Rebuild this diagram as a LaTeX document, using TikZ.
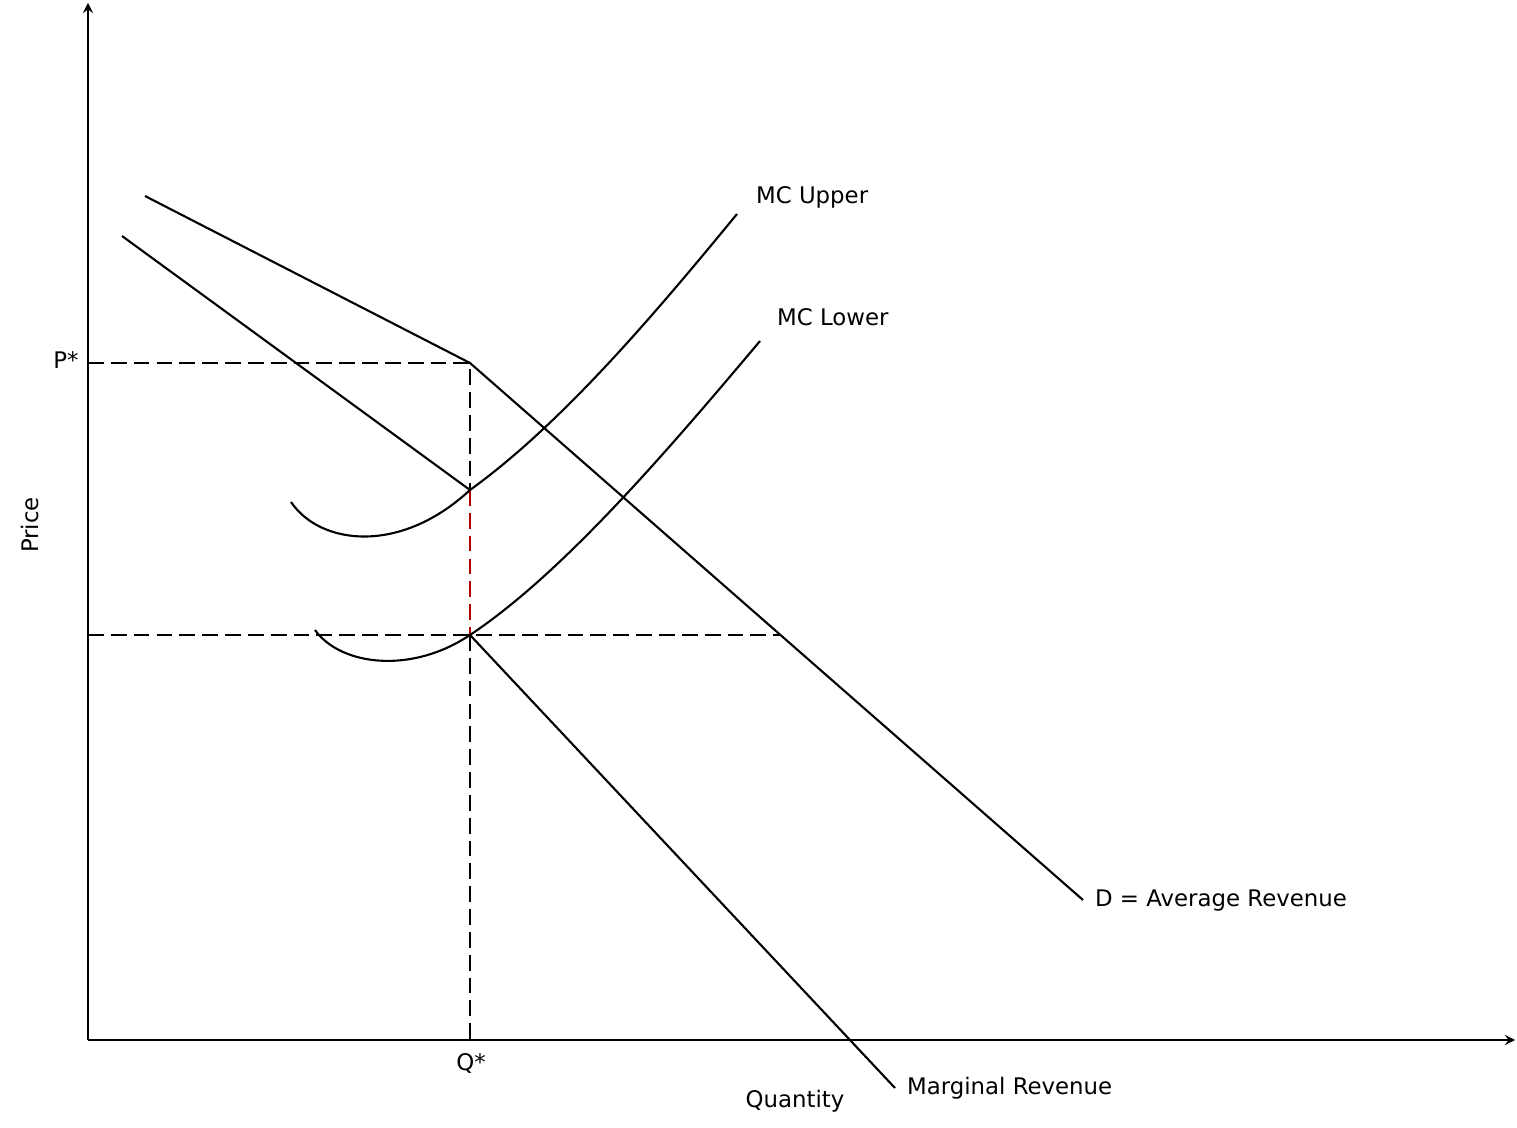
\documentclass[tikz,border=0pt]{standalone}
\usepackage{fontspec}
\setmainfont{DejaVu Sans}
\usetikzlibrary{calc}
\begin{document}
\begin{tikzpicture}[x=0.02cm,y=-0.02cm,
  curve/.style={line width=1.2pt},
  guide/.style={line width=1.1pt,dash pattern=on 9pt off 4pt},
  lbl/.style={font=\fontsize{13}{15}\selectfont,inner sep=1pt}]
 \useasboundingbox (0,0) rectangle (1517,1128);
 % axes
 \coordinate (O) at (88,1040);
 \draw[line width=1.5pt,-stealth] (O) -- (88,3);
 \draw[line width=1.5pt,-stealth] (O) -- (1515,1040);
 % key points
 \coordinate (kink) at (470,363);
 \coordinate (mru) at (470,490);
 \coordinate (mrl) at (470,635);
 \coordinate (qs) at (470,1040);
 \coordinate (ps) at (88,363);
 \coordinate (pl) at (88,635);
 \coordinate (dl) at (780,635);
 % guides
 \draw[guide] (ps) -- (kink) -- (mru);
 \draw[guide,red!70!black] (mru) -- (mrl);
 \draw[guide] (mrl) -- (qs);
 \draw[guide] (pl) -- (dl);
 % demand and marginal revenue
 \draw[curve] (145,196) -- (kink) -- (1083,900);
 \draw[curve] (122,236) -- (mru);
 \draw[curve] (mrl) -- (895,1088);
 % marginal cost
 \draw[curve] (291,502) .. controls (320,545) and (400,555) .. (mru)
   .. controls (560,425) and (650,320) .. (737,214);
 \draw[curve] (315,630) .. controls (340,665) and (410,675) .. (mrl)
   .. controls (560,575) and (660,460) .. (760,341);
 % labels
 \node[lbl] (pstar) at (66,360) {P*};
 \node[lbl] (qstar) at (471,1063) {Q*};
 \node[lbl,rotate=90] (price) at (30,525) {Price};
 \node[lbl] (quant) at (795,1101) {Quantity};
 \node[lbl,anchor=west] (mcu) at (754,197) {MC Upper};
 \node[lbl,anchor=west] (mcl) at (775,317) {MC Lower};
 \node[lbl,anchor=west] (dar) at (1093,901) {D = Average Revenue};
 \node[lbl,anchor=west] (mr) at (905,1088) {Marginal Revenue};
\end{tikzpicture}
\end{document}
